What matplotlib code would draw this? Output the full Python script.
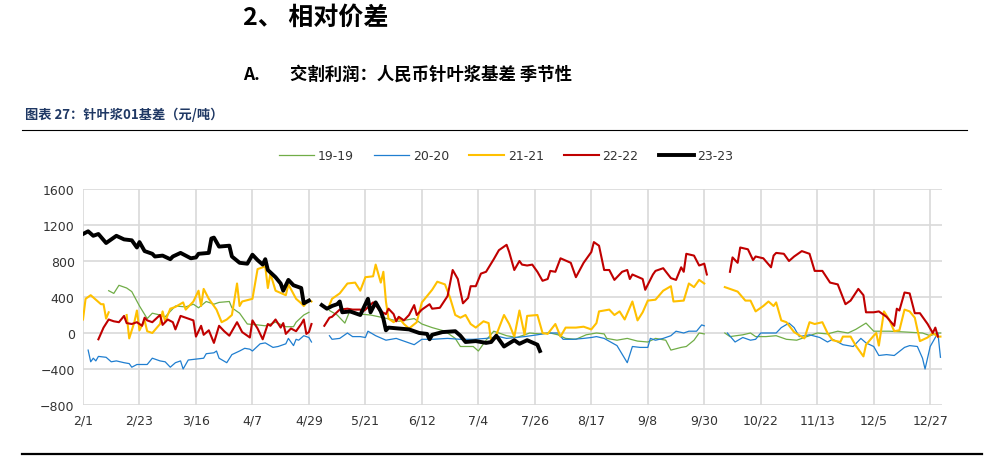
import numpy as np
import matplotlib
matplotlib.use("Agg")
import matplotlib.pyplot as plt
from matplotlib.lines import Line2D

nan = np.nan

# x = days counted from 2/1, value = basis (yuan/ton); nan marks holiday gaps
s19 = [(10, 470), (12, 440), (14, 530), (17, 500), (19, 460), (22, 300), (25, 160), (27, 220), (30, 200), (32, 180),
       (36, 300), (40, 290), (43, 320), (45, 280), (48, 350), (51, 320), (53, 340), (57, 350), (58, 280), (61, 220),
       (64, 100), (68, 90), (71, 80), (75, 120), (79, 70), (82, 70), (83, 120), (86, 200), (88, 230), (91, nan),
       (96, 250), (99, 200), (102, 110), (104, 250), (108, 210), (112, 200), (117, 170), (123, 130), (129, 160),
       (132, 100), (136, 60), (141, 20), (145, -60), (147, -150), (152, -150), (154, -200), (157, -80), (160, 20),
       (162, 0), (165, -30), (169, -50), (174, 0), (178, -10), (182, 0), (185, -20), (188, -60), (192, -70),
       (196, -20), (200, 0), (203, -10), (204, -60), (208, -80), (212, -60), (216, -90), (220, -100), (223, -60),
       (227, -80), (229, -190), (233, -160), (235, -150), (238, -80), (240, 0), (242, -10), (246, nan),
       (250, 0), (252, -40), (257, -20), (260, 0), (262, -40), (266, -40), (270, -30), (274, -70), (278, -80),
       (282, -40), (286, 0), (290, -10), (294, 20), (298, 0), (301, 40), (305, 110), (308, 20), (314, 20),
       (321, 10), (327, 0), (330, -30), (333, 0), (334, 0)]

s20 = [(2, -190), (3, -320), (4, -280), (5, -310), (6, -260), (9, -270), (11, -320), (13, -310), (16, -330),
       (18, -340), (19, -380), (21, -350), (25, -350), (27, -280), (30, -310), (32, -320), (34, -380), (36, -330),
       (38, -310), (39, -400), (41, -300), (44, -290), (47, -280), (48, -230), (51, -220), (52, -200), (53, -280),
       (56, -330), (58, -240), (61, -200), (63, -170), (65, -180), (66, -200), (69, -120), (71, -110), (74, -160),
       (76, -150), (79, -120), (80, -60), (82, -140), (83, -70), (84, -80), (86, -30), (88, -50), (89, -100),
       (91, nan),
       (96, -30), (97, -70), (100, -60), (103, 0), (105, -40), (108, -40), (110, -50), (111, 20), (114, -30),
       (118, -80), (122, -60), (126, -100), (129, -130), (132, -70), (136, -70), (142, -60), (147, -70),
       (152, -70), (157, -60), (162, -40), (165, -60), (172, -40), (177, -20), (181, 0), (185, 0), (187, -70),
       (191, -70), (195, -60), (198, -50), (200, -40), (203, -60), (208, -140), (212, -330), (214, -150),
       (217, -160), (220, -160), (221, -60), (223, -80), (226, -60), (229, -30), (231, 20), (234, 0), (236, 20),
       (239, 20), (241, 90), (242, 80), (246, nan),
       (251, 0), (254, -100), (257, -50), (260, -80), (262, -70), (264, 0), (266, 0), (270, 0), (272, 60),
       (275, 110), (277, 60), (279, -40), (283, -20), (287, -50), (290, -100), (292, -70), (296, -130),
       (300, -150), (303, -60), (305, -110), (308, -150), (310, -250), (313, -240), (316, -250), (320, -160),
       (322, -140), (325, -150), (327, -280), (328, -400), (330, -150), (333, 0), (334, -270)]

s21 = [(0, 150), (1, 380), (3, 420), (5, 370), (7, 320), (8, 320), (9, 160), (10, 230), (13, nan), (17, 200),
       (18, -60), (20, 120), (21, 250), (22, 30), (24, 140), (25, 20), (27, 0), (30, 100), (31, 240), (32, 130),
       (34, 270), (36, 290), (39, 340), (40, 260), (43, 350), (45, 470), (46, 300), (47, 490), (49, 380),
       (52, 260), (54, 120), (56, 150), (58, 200), (60, 550), (61, 300), (62, 350), (66, 380), (68, 710),
       (71, 740), (72, 500), (73, 660), (75, 470), (79, 420), (80, 540), (83, 380), (85, 330), (86, 300),
       (88, 370), (89, 350), (91, nan),
       (96, 310), (97, 380), (100, 440), (103, 550), (106, 560), (108, 470), (110, 620), (113, 630), (114, 760),
       (116, 560), (117, 680), (118, 350), (119, 160), (121, 120), (123, 170), (125, 100), (127, 50), (130, 120),
       (132, 340), (136, 480), (138, 570), (141, 540), (143, 390), (145, 200), (147, 170), (149, 200), (151, 100),
       (153, 60), (156, 130), (158, 110), (159, -90), (161, -20), (164, 200), (166, 100), (168, -40), (170, 250),
       (172, -20), (173, 190), (177, 200), (179, 0), (181, -10), (184, 100), (186, -40), (188, 60), (192, 60),
       (195, 70), (198, 40), (200, 110), (201, 240), (205, 260), (207, 200), (209, 240), (211, 150), (214, 350),
       (216, 140), (218, 230), (220, 360), (223, 370), (226, 470), (229, 520), (230, 350), (234, 360),
       (236, 550), (238, 510), (240, 590), (242, 550), (246, nan),
       (250, 510), (255, 460), (258, 360), (260, 360), (262, 240), (265, 300), (267, 350), (269, 300),
       (270, 340), (272, 140), (274, 120), (277, 10), (281, -60), (283, 120), (285, 100), (288, 120), (290, 0),
       (292, -80), (295, -100), (296, -40), (299, -40), (301, -140), (304, -260), (305, -130), (308, -30),
       (309, 0), (310, -140), (312, 240), (314, 150), (316, 20), (318, 30), (320, 260), (322, 240), (324, 170),
       (326, -90), (329, -50), (331, 0), (333, -40), (334, -40)]

s22 = [(6, -70), (8, 60), (10, 150), (12, 130), (14, 120), (16, 190), (17, 110), (19, 100), (21, 120), (23, 80),
       (24, 170), (25, 140), (27, 120), (30, 200), (31, 90), (33, 150), (35, 120), (36, 40), (38, 190), (40, 170),
       (43, 140), (44, -40), (46, 80), (47, -20), (49, 30), (51, -110), (53, 80), (55, 20), (57, -30), (60, 120),
       (62, 10), (65, -50), (66, 140), (68, 50), (70, -70), (72, 100), (73, 80), (75, 150), (77, 60), (78, 110),
       (79, -10), (81, 50), (83, 20), (85, 100), (86, 150), (87, -10), (88, 10), (89, 100), (91, nan),
       (94, 80), (96, 170), (97, 180), (100, 260), (103, 270), (105, 260), (108, 260), (109, 240), (110, 260),
       (113, 340), (116, 240), (118, 210), (119, 270), (121, 210), (122, 130), (123, 180), (125, 140), (127, 200),
       (129, 310), (130, 200), (132, 260), (135, 320), (136, 270), (139, 280), (142, 410), (144, 700), (146, 600),
       (148, 330), (150, 390), (151, 520), (153, 520), (155, 660), (157, 680), (160, 820), (162, 920), (165, 980),
       (166, 900), (168, 700), (170, 800), (171, 760), (173, 750), (175, 760), (177, 680), (179, 580), (181, 600),
       (182, 690), (184, 680), (186, 830), (190, 780), (192, 620), (195, 780), (198, 900), (199, 1010),
       (201, 970), (203, 700), (205, 700), (207, 590), (210, 680), (212, 700), (213, 600), (214, 650), (218, 600),
       (219, 480), (222, 650), (223, 690), (226, 720), (229, 610), (231, 590), (233, 730), (234, 680), (235, 880),
       (238, 860), (240, 750), (242, 770), (243, 650), (247, nan),
       (252, 680), (253, 840), (255, 780), (256, 950), (259, 930), (261, 810), (262, 850), (265, 830), (268, 730),
       (269, 860), (270, 890), (273, 880), (275, 800), (277, 850), (280, 910), (283, 880), (285, 690), (288, 690),
       (291, 560), (294, 540), (297, 320), (299, 360), (302, 490), (304, 420), (305, 230), (308, 230), (310, 240),
       (313, 180), (316, 80), (317, 270), (318, 250), (320, 450), (322, 440), (324, 220), (326, 220), (329, 100),
       (331, 0), (332, 60), (333, -40)]

s23 = [(0, 1100), (2, 1130), (4, 1080), (6, 1100), (9, 1000), (13, 1080), (16, 1040), (19, 1030), (21, 950),
       (22, 1010), (24, 910), (27, 880), (28, 850), (31, 860), (34, 820), (35, 850), (38, 890), (42, 830),
       (44, 840), (45, 880), (49, 890), (50, 1050), (51, 1060), (53, 960), (57, 970), (58, 850), (61, 780),
       (64, 770), (66, 870), (68, 810), (70, 760), (71, 820), (72, 700), (75, 620), (77, 550), (78, 470),
       (80, 590), (82, 530), (85, 500), (86, 330), (88, 360), (91, nan),
       (93, 310), (95, 270), (97, 300), (99, 320), (100, 350), (101, 230), (104, 240), (106, 220), (108, 200),
       (111, 380), (112, 230), (114, 340), (116, 240), (117, 160), (118, 30), (119, 60), (123, 50), (127, 40),
       (131, 0), (134, -10), (135, -70), (136, -20), (140, 10), (145, 20), (147, -30), (149, -100), (153, -90),
       (157, -110), (159, -100), (161, -30), (164, -150), (168, -80), (170, -120), (173, -80), (177, -130),
       (178, -200)]

tick_days = [0, 22, 44, 66, 88, 110, 132, 154, 176, 198, 220, 242, 264, 286, 308, 330]
tick_labels = ['2/1', '2/23', '3/16', '4/7', '4/29', '5/21', '6/12', '7/4', '7/26', '8/17',
               '9/8', '9/30', '10/22', '11/13', '12/5', '12/27']

series = [('19-19', s19, '#70AD47', 0.9),
          ('20-20', s20, '#1F7ED0', 0.9),
          ('21-21', s21, '#FFC000', 1.5),
          ('22-22', s22, '#C00000', 1.5),
          ('23-23', s23, '#000000', 2.8)]

cjk = ['Noto Sans CJK SC', 'DejaVu Sans']

fig = plt.figure(figsize=(9.89, 4.6), dpi=100)
ax = fig.add_axes([83 / 989, 1 - 406 / 460, (942 - 83) / 989, 216 / 460])

for name, data, color, lw in series:
    x, y = zip(*data)
    ax.plot(x, y, color=color, lw=lw, label=name, solid_joinstyle='round')

ax.set_xlim(0, 334.6)
ax.set_ylim(-800, 1600)
ax.set_yticks(range(-800, 1601, 400))
ax.set_xticks(tick_days)
ax.set_xticklabels(tick_labels)
ax.grid(True, color='#D9D9D9', lw=1.2)
ax.set_axisbelow(True)
for s in ax.spines.values():
    s.set_visible(False)
ax.tick_params(length=0, labelsize=9, colors='#333333', pad=6)

fig.legend(loc='center', bbox_to_anchor=(0.512, 1 - 157 / 460), ncol=5, frameon=False,
           fontsize=9, handlelength=2.8, columnspacing=1.6, handletextpad=0.3, labelcolor='#333333')

fig.text(243 / 989, 1 - 18 / 460, '2、 相对价差', family=cjk, fontsize=18, fontweight='bold', va='center')
fig.text(243 / 989, 1 - 75 / 460, 'A.', family=cjk, fontsize=12.5, fontweight='bold', va='center')
fig.text(290 / 989, 1 - 75 / 460, '交割利润：人民币针叶浆基差 季节性', family=cjk, fontsize=12.5,
         fontweight='bold', va='center')
fig.text(25 / 989, 1 - 115 / 460, '图表 27：针叶浆01基差（元/吨）', family=cjk, fontsize=9.5,
         fontweight='bold', color='#1F3864', va='center')

fig.add_artist(Line2D([22 / 989, 967 / 989], [1 - 131 / 460] * 2, color='black', lw=0.8))
fig.add_artist(Line2D([22 / 989, 982 / 989], [1 - 455 / 460] * 2, color='black', lw=1.6))

fig.savefig('out.png', dpi=100)
